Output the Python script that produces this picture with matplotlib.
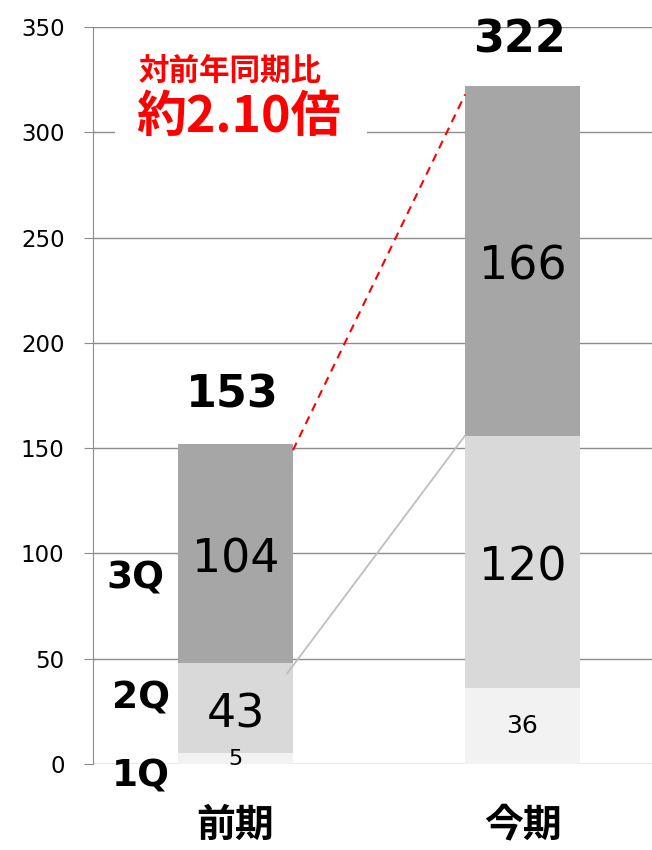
import matplotlib
matplotlib.use("Agg")
import matplotlib.pyplot as plt
from matplotlib.patches import Rectangle

periods = ["前期", "今期"]
q1 = [5, 36]
q2 = [43, 120]
q3 = [104, 166]
totals = [153, 322]
quarter_names = ["1Q", "2Q", "3Q"]
yticks = [0, 50, 100, 150, 200, 250, 300, 350]

jp = ["Noto Sans CJK JP", "DejaVu Sans"]
num = ["DejaVu Sans"]

fig = plt.figure(figsize=(6.52, 8.5), dpi=100)
ax = fig.add_axes([93/652, 1-764/850, 1-93/652, (764-27)/850])

xs = [0, 1]
w = 0.4
c1, c2, c3 = "#f2f2f2", "#d9d9d9", "#a6a6a6"
b2 = [a for a in q1]
b3 = [a+b for a, b in zip(q1, q2)]
ax.bar(xs, q1, w, color=c1, zorder=3)
ax.bar(xs, q2, w, bottom=b2, color=c2, zorder=3)
ax.bar(xs, q3, w, bottom=b3, color=c3, zorder=3)

ax.set_xlim(-0.4965, 1.451)
ax.set_ylim(0, 350)
ax.set_yticks(yticks)
ax.set_yticklabels([str(t) for t in yticks], fontsize=16.5, family=num)
ax.yaxis.grid(True, color="#8c8c8c", lw=1.0, zorder=0)
ax.tick_params(axis="y", length=6.5, color="#8c8c8c", pad=14)
ax.set_xticks(xs)
ax.set_xticklabels(periods, fontsize=28, fontweight="bold", family=jp)
ax.tick_params(axis="x", length=0, pad=30)
for s in ["top", "right", "bottom"]:
    ax.spines[s].set_visible(False)
ax.spines["left"].set_color("#8c8c8c")

# segment labels
for i in xs:
    ax.text(i, q1[i]/2, str(q1[i]), ha="center", va="center",
            fontsize=18 if q1[i] > 10 else 16, family=num, zorder=5)
    ax.text(i, b2[i]+q2[i]/2 - 3, str(q2[i]), ha="center", va="center",
            fontsize=33, family=num, zorder=5)
    ax.text(i, b3[i]+q3[i]/2 - 3, str(q3[i]), ha="center", va="center",
            fontsize=33, family=num, zorder=5)
    ax.text(i - 0.01, totals[i] + 22, str(totals[i]), ha="center", va="center",
            fontsize=32, fontweight="bold", family=num, zorder=5)

# quarter names on the left
q_y = [-6, 31, 88]
q_x = [-0.33, -0.33, -0.35]
for name, xx, yy in zip(quarter_names, q_x, q_y):
    ax.text(xx, yy, name, ha="center", va="center", fontsize=27,
            fontweight="bold", family=num, zorder=5, clip_on=False)

# connector lines
top1 = b3[0] + q3[0]
top2 = b3[1] + q3[1]
ax.plot([w/2, 1 - w/2], [top1 - 3, top2 - 4], color="red", ls=(0, (4, 3)),
        lw=1.5, zorder=4)
ax.plot([w/2 - 0.02, 1 - w/2], [q2[0], b3[1]], color="#bfbfbf", lw=1.3, zorder=4)

# annotation with white background
ax.add_patch(Rectangle((0.04, 0.755), 0.45, 0.195, transform=ax.transAxes,
                       facecolor="white", edgecolor="none", zorder=2))
ax.text(-0.02, 329, "対前年同期比", ha="center", va="center", color="red",
        fontsize=22, fontweight="bold", family=jp, zorder=5)
ax.text(0.01, 307, "約2.10倍", ha="center", va="center", color="red",
        fontsize=36, fontweight="bold", family=jp, zorder=5)

fig.savefig("out.png", dpi=100)
